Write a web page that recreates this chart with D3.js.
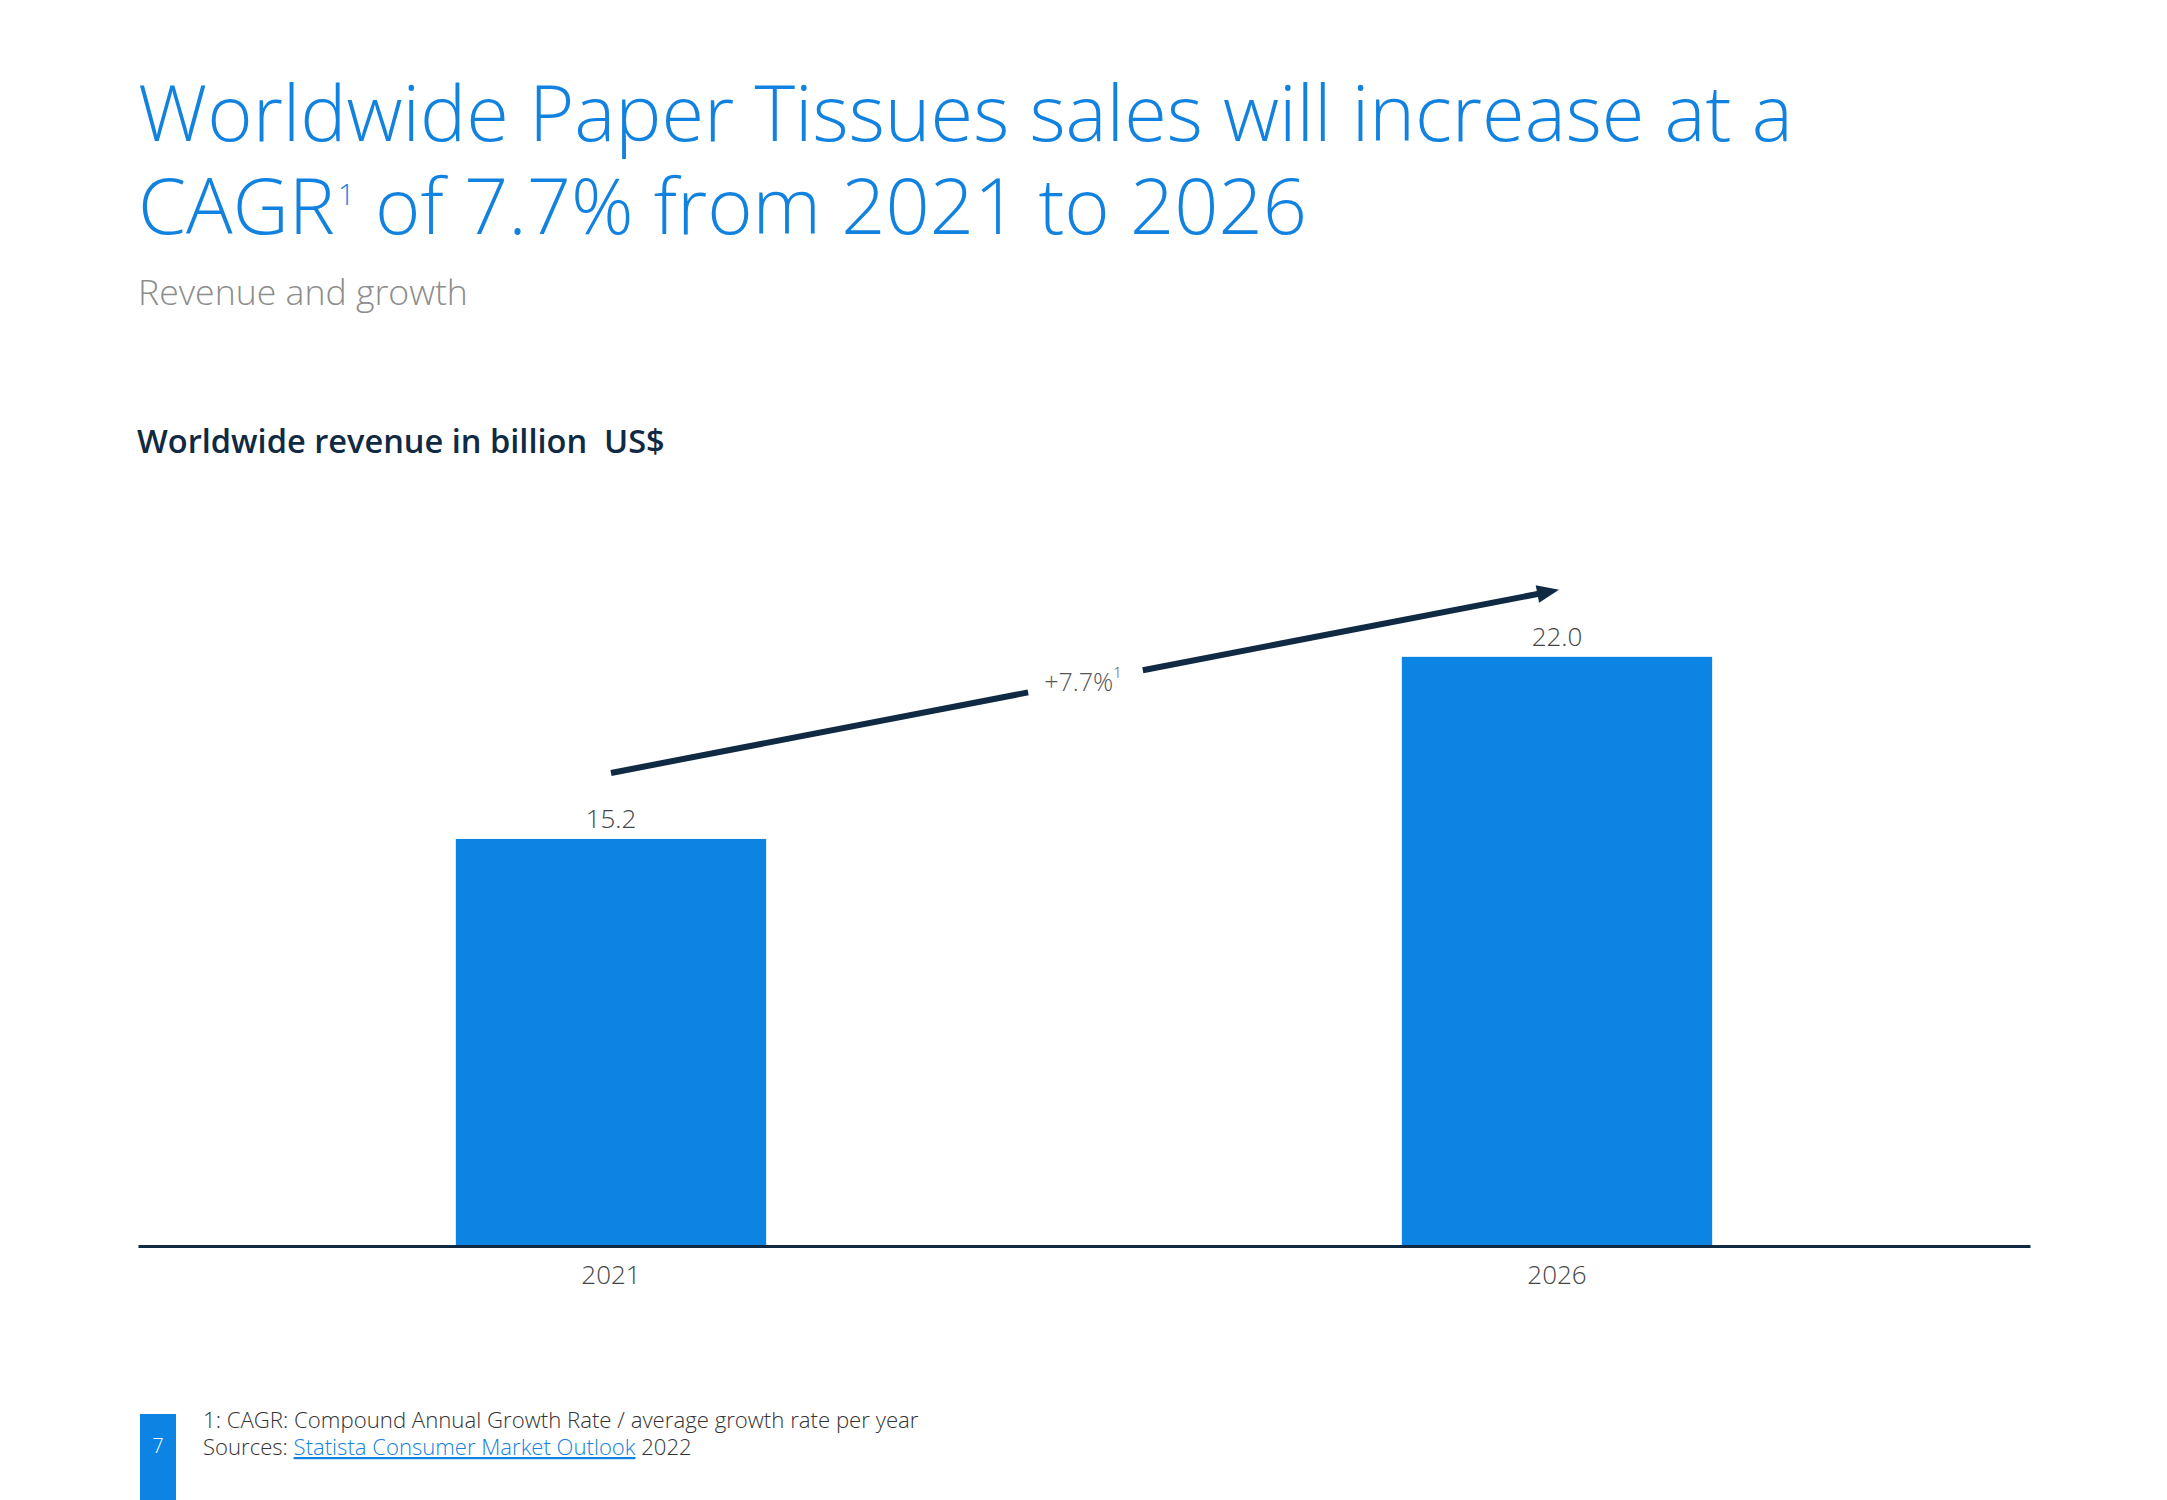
<!DOCTYPE html>
<html><head><meta charset="utf-8">
<script src="https://cdn.jsdelivr.net/npm/d3@7"></script>
<style>
html,body{margin:0;padding:0;background:#fff;}
svg{display:block;font-family:"Open Sans",sans-serif;}
</style></head>
<body><svg id="chart" width="2167" height="1500"></svg>
<script>
// ---- data ----
const titleLine1 = "Worldwide Paper Tissues sales will increase at a";
const titleLine2Start = "CAGR";
const titleLine2Sup = "1";
const titleLine2End = " of 7.7% from 2021 to 2026";
const subtitle = "Revenue and growth";
const chartTitle = "Worldwide revenue in billion  US$";
const categories = ["2021", "2026"];
const revenue = [15.2, 22.0];
const valueLabels = ["15.2", "22.0"];
const cagrLabel = "+7.7%";
const cagrSup = "1";
const footnote1 = "1: CAGR: Compound Annual Growth Rate / average growth rate per year";
const sourcePrefix = "Sources: ";
const sourceLink = "Statista Consumer Market Outlook";
const sourceYear = " 2022";
const pageNumber = "7";

// ---- styles ----
const BLUE = "#0b84e4", TITLE_BLUE = "#1282e0", NAVY = "#0f2a42";

const svg = d3.select("#chart");

function fit(sel, target) {
  const fs = parseFloat(sel.attr("font-size"));
  const w = sel.node().getComputedTextLength();
  sel.attr("font-size", fs * target / w);
  return fs * target / w;
}

// Title
const t1 = svg.append("text").attr("x", 138).attr("y", 141)
  .attr("font-size", 80).attr("font-weight", 300).attr("fill", TITLE_BLUE)
  .text(titleLine1);
const tfs = fit(t1, 1655);
const t2 = svg.append("text").attr("x", 138).attr("y", 234)
  .attr("font-size", tfs).attr("font-weight", 300).attr("fill", TITLE_BLUE);
t2.append("tspan").text(titleLine2Start);
t2.append("tspan").attr("font-size", 30).attr("dx", 3).attr("dy", -29).text(titleLine2Sup);
t2.append("tspan").attr("dy", 29).text(titleLine2End);

// Subtitle
const st = svg.append("text").attr("x", 138).attr("y", 305)
  .attr("font-size", 34).attr("font-weight", 300).attr("fill", "#8d8d8d")
  .text(subtitle);
fit(st, 330);

// Chart title
const ct = svg.append("text").attr("x", 137).attr("y", 453)
  .attr("font-size", 30).attr("font-weight", 600).attr("fill", NAVY)
  .style("white-space", "pre").text(chartTitle);
fit(ct, 528);

// Scales
const x = d3.scaleBand().domain(categories).range([138, 2030])
  .paddingInner(0.672).paddingOuter(0.336);
const y = d3.scaleLinear().domain([0, 25]).range([1246, 576.5]);

// Bars
svg.append("g").selectAll("rect").data(categories).join("rect")
  .attr("x", d => x(d)).attr("width", x.bandwidth())
  .attr("y", (d, i) => y(revenue[i]))
  .attr("height", (d, i) => y(0) - y(revenue[i]))
  .attr("fill", BLUE);

// Value labels
svg.append("g").selectAll("text").data(categories).join("text")
  .attr("x", d => x(d) + x.bandwidth() / 2)
  .attr("y", (d, i) => y(revenue[i]) - 11)
  .attr("text-anchor", "middle").attr("font-size", 26).attr("font-weight", 300)
  .attr("fill", "#444").text((d, i) => valueLabels[i]);

// Axis
const ax = svg.append("g").attr("transform", `translate(0,${y(0)})`)
  .call(d3.axisBottom(x).tickSize(0).tickSizeOuter(0).tickPadding(20));
ax.select(".domain").attr("stroke", NAVY).attr("stroke-width", 3);
ax.selectAll(".tick text").attr("font-size", 26).attr("font-weight", 300)
  .attr("fill", "#444").attr("font-family", '"Open Sans",sans-serif');

// CAGR arrow
const off = 66;
const p1 = [x(categories[0]) + x.bandwidth() / 2, y(revenue[0]) - off];
const p2 = [x(categories[1]) + x.bandwidth() / 2 + 2, y(revenue[1]) - off - 1];
const dx = p2[0] - p1[0], dy = p2[1] - p1[1];
const len = Math.hypot(dx, dy);
const u = [dx / len, dy / len], n = [-u[1], u[0]];
const pt = t => [p1[0] + dx * t, p1[1] + dy * t];
const headL = 22, headW = 9;
const tEnd = 1 - (headL * 0.7) / len;
const segs = [[0, 0.44], [0.561, tEnd]];
svg.append("g").selectAll("line").data(segs).join("line")
  .attr("x1", d => pt(d[0])[0]).attr("y1", d => pt(d[0])[1])
  .attr("x2", d => pt(d[1])[0]).attr("y2", d => pt(d[1])[1])
  .attr("stroke", NAVY).attr("stroke-width", 6);
const b = [p2[0] - u[0] * headL, p2[1] - u[1] * headL];
svg.append("path")
  .attr("d", `M${p2[0]},${p2[1]}L${b[0] + n[0] * headW},${b[1] + n[1] * headW}L${b[0] - n[0] * headW},${b[1] - n[1] * headW}Z`)
  .attr("fill", NAVY);
const mid = pt(0.5);
const cl = svg.append("text").attr("x", mid[0] - 2).attr("y", mid[1] + 10)
  .attr("text-anchor", "middle").attr("font-size", 25).attr("font-weight", 300)
  .attr("fill", "#555");
cl.append("tspan").text(cagrLabel);
cl.append("tspan").attr("font-size", "0.6em").attr("dy", "-0.9em").text(cagrSup);

// Footer
svg.append("rect").attr("x", 140).attr("y", 1414).attr("width", 36).attr("height", 86).attr("fill", BLUE);
svg.append("text").attr("x", 158).attr("y", 1453).attr("text-anchor", "middle")
  .attr("font-size", 20).attr("font-weight", 300).attr("fill", "#fff").text(pageNumber);
const f1 = svg.append("text").attr("x", 203).attr("y", 1428)
  .attr("font-size", 21).attr("font-weight", 300).attr("fill", "#333").text(footnote1);
fit(f1, 716);
const f2 = svg.append("text").attr("x", 203).attr("y", 1455)
  .attr("font-size", 21).attr("font-weight", 300).attr("fill", "#333").style("white-space", "pre");
f2.append("tspan").text(sourcePrefix);
f2.append("tspan").attr("fill", TITLE_BLUE).attr("text-decoration", "underline").text(sourceLink);
f2.append("tspan").text(sourceYear);
fit(f2, 489);
</script></body></html>
